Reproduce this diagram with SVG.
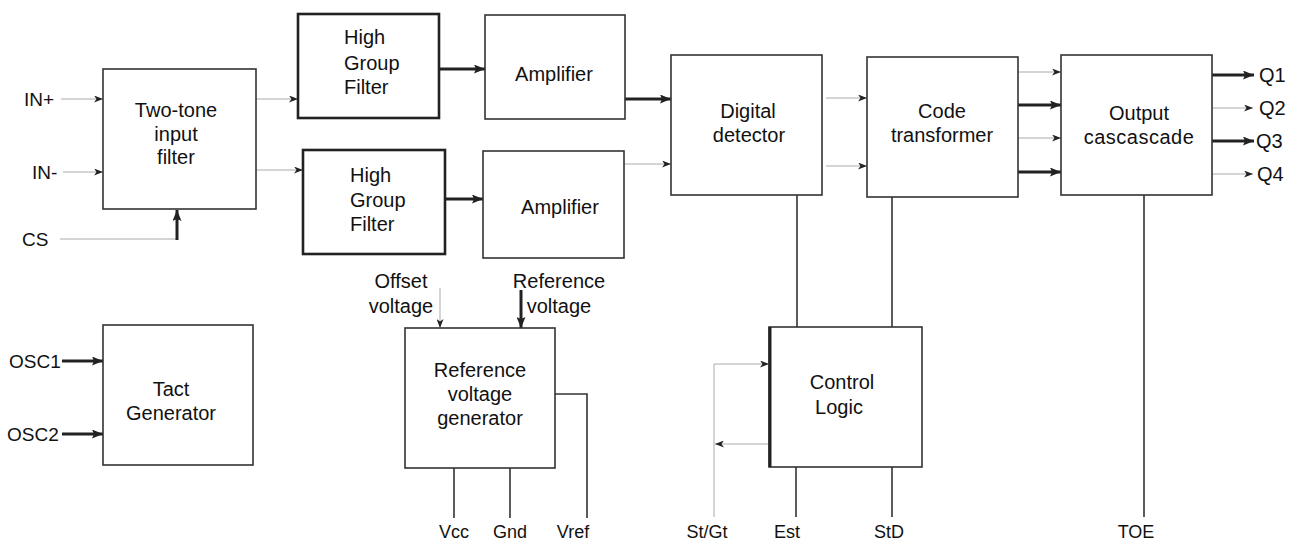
<svg xmlns="http://www.w3.org/2000/svg" width="1289" height="541" viewBox="0 0 1289 541">
<style>
.box{fill:#fff;stroke:#333;stroke-width:1.6}
.bold{fill:#fff;stroke:#222;stroke-width:2.6}
.t{font-family:"Liberation Sans",Arial,sans-serif;font-size:20px;fill:#111;text-anchor:middle}
.l{font-family:"Liberation Sans",Arial,sans-serif;font-size:18px;fill:#111}
.m{font-family:"Liberation Sans",Arial,sans-serif;font-size:20px;fill:#111}
.thin{stroke:#aaa;stroke-width:1;fill:none}
.thick{stroke:#222;stroke-width:3;fill:none}
.wire{stroke:#333;stroke-width:1.6;fill:none}
</style>
<defs>
<marker id="ah" markerUnits="userSpaceOnUse" markerWidth="11" markerHeight="9" refX="11" refY="4.5" orient="auto"><path d="M0,0 L11,4.5 L0,9 L2,4.5 z" fill="#222"/></marker>
<marker id="as" markerUnits="userSpaceOnUse" markerWidth="9" markerHeight="7" refX="9" refY="3.5" orient="auto"><path d="M0,0 L9,3.5 L0,7 L2.5,3.5 z" fill="#222"/></marker>
</defs>
<rect width="1289" height="541" fill="#fff"/>

<g id="connectors">
<line class="thin" x1="61" y1="99" x2="103" y2="99" marker-end="url(#as)"/>
<line class="thin" x1="63" y1="172" x2="103" y2="172" marker-end="url(#as)"/>
<polyline class="thin" points="60,239 177,239"/>
<line class="thick" x1="177" y1="240" x2="177" y2="210" marker-end="url(#ah)"/>
<line class="thin" x1="256" y1="99" x2="298" y2="99" marker-end="url(#as)"/>
<line class="thin" x1="256" y1="170" x2="303" y2="170" marker-end="url(#as)"/>
<line class="thick" x1="439" y1="69" x2="485" y2="69" marker-end="url(#ah)"/>
<line class="thick" x1="445" y1="199" x2="483" y2="199" marker-end="url(#ah)"/>
<line class="thick" x1="625" y1="99" x2="671" y2="99" marker-end="url(#ah)"/>
<line class="thin" x1="624" y1="164" x2="671" y2="164" marker-end="url(#as)"/>
<line class="thin" x1="826" y1="98" x2="867" y2="98" marker-end="url(#as)"/>
<line class="thin" x1="826" y1="166" x2="867" y2="166" marker-end="url(#as)"/>
<line class="thin" x1="1018" y1="72" x2="1061" y2="72" marker-end="url(#as)"/>
<line class="thick" x1="1018" y1="105" x2="1061" y2="105" marker-end="url(#ah)"/>
<line class="thin" x1="1018" y1="138" x2="1061" y2="138" marker-end="url(#as)"/>
<line class="thick" x1="1018" y1="172" x2="1061" y2="172" marker-end="url(#ah)"/>
<line class="thick" x1="1212" y1="75" x2="1254" y2="75" marker-end="url(#ah)"/>
<line class="thin" x1="1212" y1="108" x2="1253" y2="108" marker-end="url(#as)"/>
<line class="thick" x1="1212" y1="141" x2="1254" y2="141" marker-end="url(#ah)"/>
<line class="thin" x1="1212" y1="174" x2="1253" y2="174" marker-end="url(#as)"/>
<line class="wire" x1="797" y1="195" x2="797" y2="327"/>
<line class="wire" x1="892" y1="197" x2="892" y2="327"/>
<line class="wire" x1="1144" y1="195" x2="1144" y2="517"/>
<line class="thick" x1="62" y1="361" x2="103" y2="361" marker-end="url(#ah)"/>
<line class="thick" x1="62" y1="434" x2="103" y2="434" marker-end="url(#ah)"/>
<line class="thin" x1="440" y1="288" x2="440" y2="328" marker-end="url(#as)"/>
<line class="thick" x1="521" y1="290" x2="521" y2="328" marker-end="url(#ah)"/>
<line class="wire" x1="454" y1="468" x2="454" y2="518"/>
<line class="wire" x1="510" y1="468" x2="510" y2="518"/>
<polyline class="wire" points="555,394 587,394 587,518"/>
<polyline class="thin" points="714,517 714,364 769,364" marker-end="url(#as)"/>
<line class="thin" x1="769" y1="444" x2="715" y2="444" marker-end="url(#as)"/>
<line class="wire" x1="796" y1="467" x2="796" y2="517"/>
<line class="wire" x1="892" y1="467" x2="892" y2="517"/>
</g>

<g id="two-tone">
<rect class="box" x="103" y="69" width="153" height="140"/>
<text class="t" x="176" y="117">Two-tone</text>
<text class="t" x="176" y="141">input</text>
<text class="t" x="176" y="164">filter</text>
</g>
<g id="hgf-top">
<rect class="bold" x="298" y="14" width="141" height="104"/>
<text class="t" x="344" y="44" style="text-anchor:start">High</text>
<text class="t" x="344" y="70" style="text-anchor:start">Group</text>
<text class="t" x="344" y="94" style="text-anchor:start">Filter</text>
</g>
<g id="hgf-bottom">
<rect class="bold" x="303" y="150" width="142" height="104"/>
<text class="t" x="350" y="182" style="text-anchor:start">High</text>
<text class="t" x="350" y="207" style="text-anchor:start">Group</text>
<text class="t" x="350" y="231" style="text-anchor:start">Filter</text>
</g>
<g id="amp-top">
<rect class="box" x="485" y="15" width="140" height="104"/>
<text class="t" x="554" y="81">Amplifier</text>
</g>
<g id="amp-bottom">
<rect class="box" x="483" y="151" width="141" height="107"/>
<text class="t" x="560" y="214">Amplifier</text>
</g>
<g id="digital-detector">
<rect class="box" x="671" y="55" width="151" height="140"/>
<text class="t" x="748" y="118">Digital</text>
<text class="t" x="749" y="142">detector</text>
</g>
<g id="code-transformer">
<rect class="box" x="867" y="57" width="151" height="140"/>
<text class="t" x="942" y="118">Code</text>
<text class="t" x="942" y="142">transformer</text>
</g>
<g id="output-cascade">
<rect class="box" x="1061" y="55" width="151" height="140"/>
<text class="t" x="1139" y="120">Output</text>
<text class="t" x="1139" y="144" style="letter-spacing:0.5px">cascascade</text>
</g>
<g id="tact-generator">
<rect class="box" x="103" y="325" width="150" height="140"/>
<text class="t" x="171" y="396">Tact</text>
<text class="t" x="171" y="420">Generator</text>
</g>
<g id="reference-generator">
<rect class="box" x="405" y="328" width="150" height="140"/>
<text class="t" x="480" y="377">Reference</text>
<text class="t" x="480" y="401">voltage</text>
<text class="t" x="480" y="425">generator</text>
</g>
<g id="control-logic">
<rect class="box" x="769" y="327" width="153" height="140"/>
<line x1="770" y1="327" x2="770" y2="467" stroke="#222" stroke-width="3"/>
<text class="t" x="842" y="389">Control</text>
<text class="t" x="839" y="414">Logic</text>
</g>

<g id="labels">
<text class="l" x="24" y="106" style="font-size:19px">IN+</text>
<text class="l" x="32" y="179" style="font-size:19px">IN-</text>
<text class="l" x="22" y="246" style="font-size:19px">CS</text>
<text class="l" x="9" y="368" style="font-size:19px">OSC1</text>
<text class="l" x="7" y="441" style="font-size:19px">OSC2</text>
<text class="m" x="401" y="288" style="text-anchor:middle">Offset</text>
<text class="m" x="401" y="313" style="text-anchor:middle">voltage</text>
<text class="m" x="559" y="288" style="text-anchor:middle">Reference</text>
<text class="m" x="559" y="313" style="text-anchor:middle">voltage</text>
<text class="l" x="454" y="538" style="text-anchor:middle">Vcc</text>
<text class="l" x="510" y="538" style="text-anchor:middle">Gnd</text>
<text class="l" x="573" y="538" style="text-anchor:middle">Vref</text>
<text class="l" x="707" y="538" style="text-anchor:middle">St/Gt</text>
<text class="l" x="787" y="538" style="text-anchor:middle">Est</text>
<text class="l" x="889" y="538" style="text-anchor:middle">StD</text>
<text class="l" x="1136" y="538" style="text-anchor:middle">TOE</text>
<text class="m" x="1259" y="82">Q1</text>
<text class="m" x="1259" y="115">Q2</text>
<text class="m" x="1256" y="148">Q3</text>
<text class="m" x="1257" y="181">Q4</text>
</g>
</svg>
